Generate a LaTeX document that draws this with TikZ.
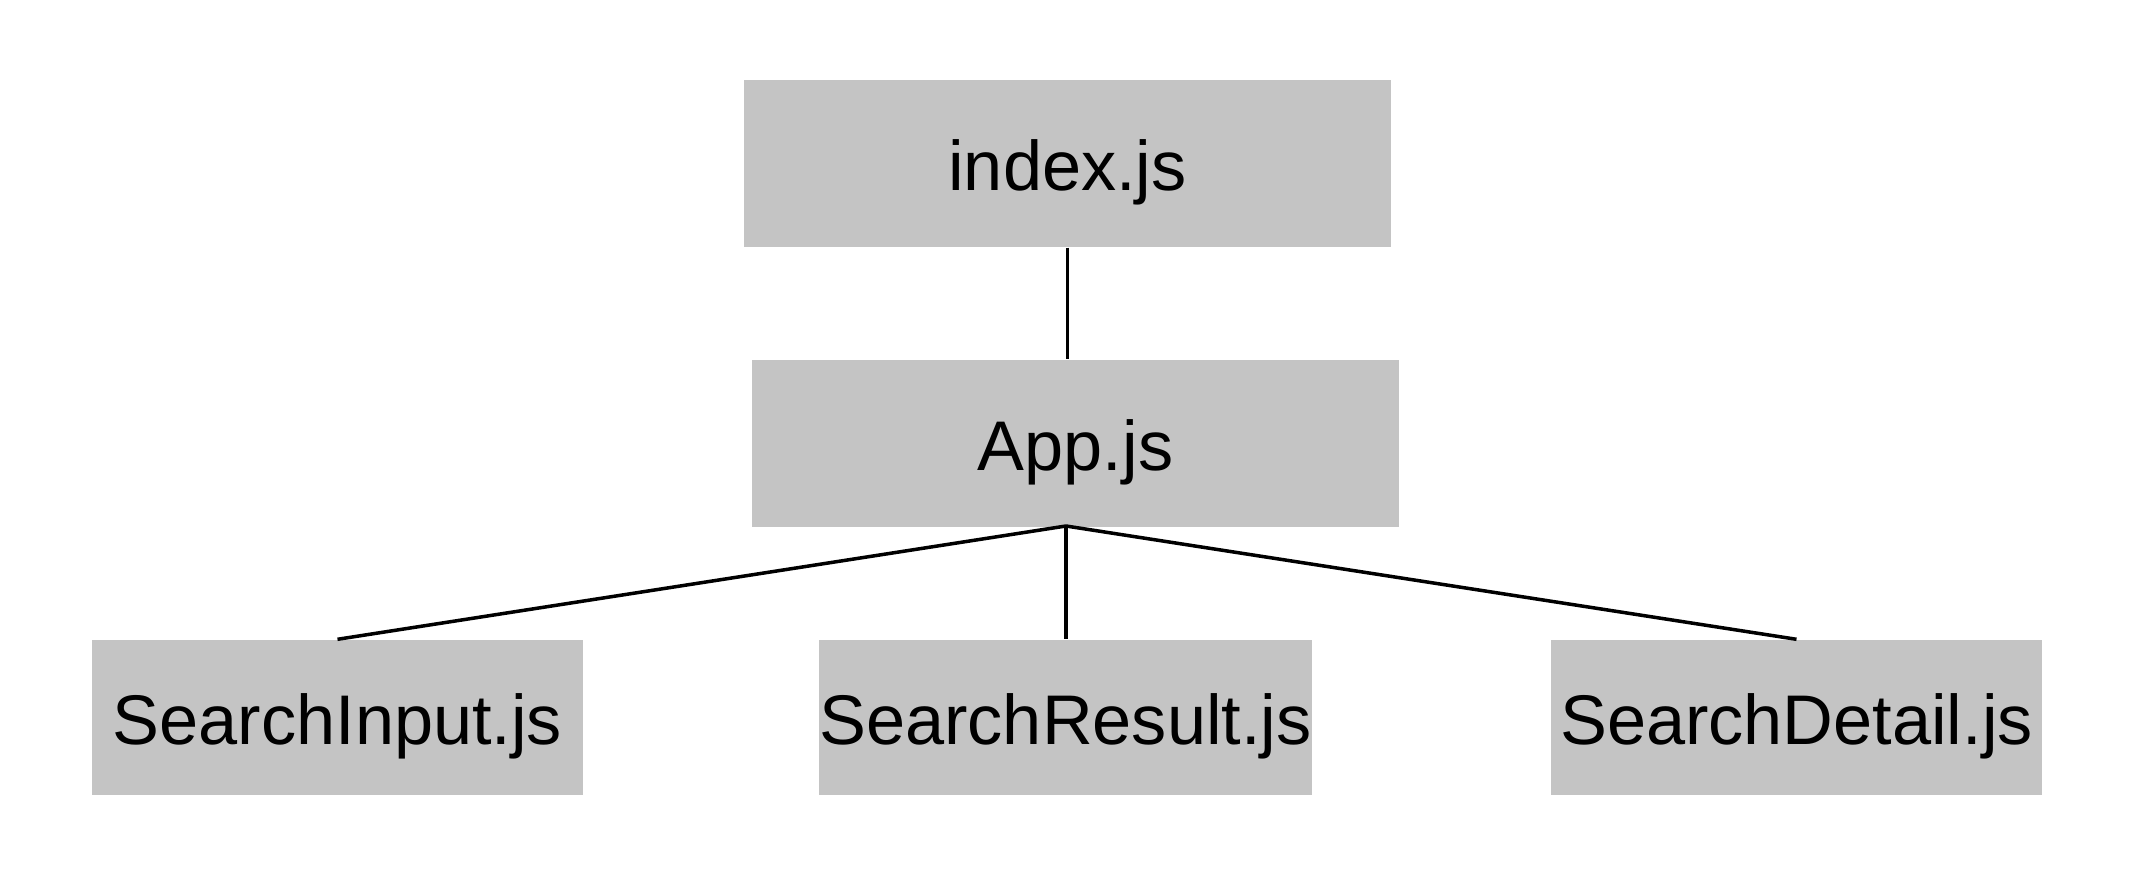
\documentclass[tikz,border=0pt]{standalone}
\usepackage{fontspec}
\setmainfont{Liberation Sans}
\usepackage{tikz}
\usetikzlibrary{positioning}
\definecolor{boxgray}{HTML}{C4C4C4}
\tikzset{
    filebox/.style = {rectangle, draw=none, fill=boxgray, inner sep=0pt, align=center, text height=15.5pt, text depth=0pt, font=\fontsize{20}{24}\selectfont, text=black},
    fileboxw/.style = {filebox, minimum width=6.47cm, minimum height=1.67cm},
    fileboxn/.style = {filebox, minimum width=4.91cm, minimum height=1.55cm},
    edgen/.style = {-, line width=1pt, black}
}

\begin{document}
\begin{tikzpicture}
\useasboundingbox (0, 0) rectangle (21.32, 8.88);
\node[fileboxw] at (10.675, 7.245) (index) {index.js};
\node[fileboxw] at (10.755, 4.45) (app) {App.js};
\node[fileboxn] at (3.375, 1.705) (input) {SearchInput.js};
\node[fileboxn] at (10.655, 1.705) (result) {SearchResult.js};
\node[fileboxn] at (17.965, 1.705) (detail) {SearchDetail.js};
\coordinate (fan) at (10.66, 3.62);
%
\draw[edgen] (index.south) edge (index.south |- app.north);
\draw[edgen] (fan) edge (input.north);
\draw[edgen] (fan) edge (result.north -| fan);
\draw[edgen] (fan) edge (detail.north);

\end{tikzpicture}
\end{document}
